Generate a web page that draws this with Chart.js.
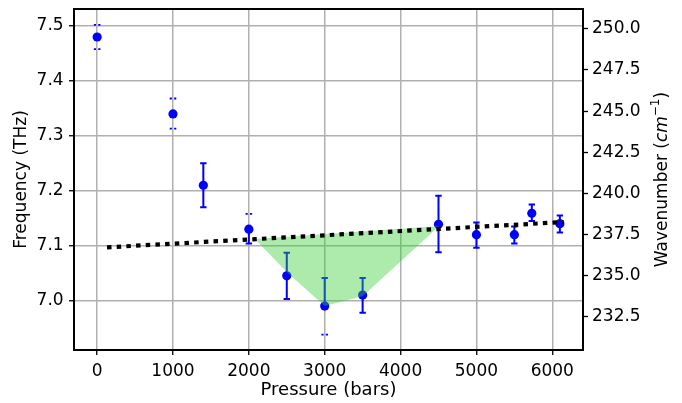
<!DOCTYPE html>
<html>
<head>
<meta charset="utf-8">
<script src="https://cdn.jsdelivr.net/npm/chart.js@4"></script>
<style>
  html, body { margin: 0; padding: 0; background: #fff; }
  #wrap { width: 682px; height: 403px; }
</style>
</head>
<body>
<div id="wrap"><canvas id="js--chart" width="682" height="403"></canvas></div>
<script>
// measured points
const pressure  = [0, 1000, 1400, 2000, 2500, 3000, 3500, 4500, 5000, 5500, 5730, 6100];
const frequency = [7.48, 7.34, 7.21, 7.13, 7.045, 6.99, 7.01, 7.139, 7.12, 7.12, 7.159, 7.14];

// solid error bars (with caps)
const barLow  = [null, null, 7.17, 7.104, 7.003, 6.99, 6.978, 7.088, 7.096, 7.104, 7.145, 7.124];
const barHigh = [null, null, 7.25, 7.13, 7.087, 7.041, 7.041, 7.191, 7.142, 7.135, 7.175, 7.155];
// dotted caps only
const dotCapLow  = [7.458, 7.313, null, null, null, 6.938, null, null, null, null, null, null];
const dotCapHigh = [7.502, 7.368, null, 7.158, null, null, null, null, null, null, null, null];

// trend line
const trendX = [130, 6150];
const trendY = [7.097, 7.143];

// green region
const fillX = [2080, 2500, 3000, 3500, 4510];
const fillY = [7.112, 7.052, 6.99, 7.008, 7.136];

// ticks
const xTicks  = [0, 1000, 2000, 3000, 4000, 5000, 6000];
const yTicks  = [7.0, 7.1, 7.2, 7.3, 7.4, 7.5];
const y2Ticks = [232.5, 235.0, 237.5, 240.0, 242.5, 245.0, 247.5, 250.0];

const xMin = -305, xMax = 6405;
const yMin = 6.910, yMax = 7.531;
const cmPerTHz = 33.356;

const FONT = "'DejaVu Sans'";

function pts(xs, ys) {
  return xs.map((x, i) => ({x: x, y: ys[i]}));
}

function noPad(s) {
  s.paddingTop = 0; s.paddingBottom = 0; s.paddingLeft = 0; s.paddingRight = 0;
}

const errorBars = {
  id: 'errorBars',
  beforeDatasetsDraw(chart) {
    const ctx = chart.ctx;
    const xs = chart.scales.x, ys = chart.scales.y;
    ctx.save();
    ctx.strokeStyle = '#0000ff';
    for (let i = 0; i < pressure.length; i++) {
      const px = xs.getPixelForValue(pressure[i]);
      if (barLow[i] != null) {
        const y1 = ys.getPixelForValue(barLow[i]);
        const y2 = ys.getPixelForValue(barHigh[i]);
        ctx.lineWidth = 2;
        ctx.setLineDash([]);
        ctx.beginPath();
        ctx.moveTo(px, y1); ctx.lineTo(px, y2);
        ctx.moveTo(px - 3.2, y1); ctx.lineTo(px + 3.2, y1);
        ctx.moveTo(px - 3.2, y2); ctx.lineTo(px + 3.2, y2);
        ctx.stroke();
      }
      [dotCapLow[i], dotCapHigh[i]].forEach(v => {
        if (v == null) return;
        const cy = ys.getPixelForValue(v);
        ctx.lineWidth = 1.8;
        ctx.setLineDash([2.2, 2.2]);
        ctx.beginPath();
        ctx.moveTo(px - 3.3, cy); ctx.lineTo(px + 3.3, cy);
        ctx.stroke();
      });
    }
    ctx.restore();
  }
};

const frame = {
  id: 'frame',
  afterDraw(chart) {
    const {ctx, chartArea: a} = chart;
    ctx.save();
    ctx.strokeStyle = '#000';
    ctx.lineWidth = 2;
    ctx.strokeRect(a.left, a.top, a.right - a.left, a.bottom - a.top);

    // right axis title with italic unit and superscript
    const parts = [
      {t: 'Wavenumber (', f: '17px ' + FONT, dy: 0},
      {t: 'cm', f: 'italic 17px ' + FONT, dy: 0},
      {t: '\u22121', f: '12px ' + FONT, dy: -7},
      {t: ')', f: '17px ' + FONT, dy: 0}
    ];
    let total = 0;
    parts.forEach(p => { ctx.font = p.f; p.w = ctx.measureText(p.t).width; total += p.w; });
    ctx.translate(663, (a.top + a.bottom) / 2);
    ctx.rotate(-Math.PI / 2);
    ctx.fillStyle = '#000';
    ctx.textBaseline = 'middle';
    ctx.textAlign = 'left';
    let x = -total / 2;
    parts.forEach(p => { ctx.font = p.f; ctx.fillText(p.t, x, p.dy); x += p.w; });
    ctx.restore();
  }
};

const tickFont = {family: FONT, size: 17};

const config = {
  type: 'line',
  data: {
    datasets: [
      {
        label: 'trend',
        data: pts(trendX, trendY),
        borderColor: '#000',
        borderWidth: 4.2,
        borderDash: [4.5, 5.2],
        borderCapStyle: 'butt',
        pointRadius: 0,
        fill: false,
        order: 0
      },
      {
        label: 'region',
        data: pts(fillX, fillY),
        borderWidth: 0,
        borderColor: 'rgba(0,0,0,0)',
        backgroundColor: 'rgba(50,205,50,0.4)',
        pointRadius: 0,
        fill: 'shape',
        order: 1
      },
      {
        label: 'data',
        data: pts(pressure, frequency),
        showLine: false,
        pointRadius: 4.6,
        pointBorderWidth: 0,
        pointBackgroundColor: '#0000ff',
        borderColor: '#0000ff',
        order: 2
      }
    ]
  },
  options: {
    responsive: false,
    animation: false,
    layout: {padding: {top: 9, left: 0, right: 0, bottom: 0}},
    plugins: {legend: {display: false}, tooltip: {enabled: false}},
    scales: {
      x: {
        type: 'linear',
        position: 'bottom',
        min: xMin, max: xMax,
        afterBuildTicks: s => { s.ticks = xTicks.map(v => ({value: v})); },
        afterFit: s => { s.height = 53; noPad(s); },
        ticks: {font: tickFont, color: '#000', padding: 6, maxRotation: 0, callback: v => String(v)},
        grid: {color: '#b0b0b0', lineWidth: 1.5, tickColor: '#000', tickLength: 5, tickWidth: 1.3},
        border: {display: false},
        title: {display: true, text: 'Pressure (bars)', font: {family: FONT, size: 18, lineHeight: 1.2}, color: '#000', padding: {top: 0, bottom: 2}}
      },
      y: {
        type: 'linear',
        position: 'left',
        min: yMin, max: yMax,
        afterBuildTicks: s => { s.ticks = yTicks.map(v => ({value: v})); },
        afterFit: s => { s.width = 74; noPad(s); },
        ticks: {font: tickFont, color: '#000', padding: 5.4, callback: v => v.toFixed(1)},
        grid: {color: '#b0b0b0', lineWidth: 1.5, tickColor: '#000', tickLength: 5, tickWidth: 1.3},
        border: {display: false},
        title: {display: true, text: 'Frequency (THz)', font: {family: FONT, size: 17, lineHeight: 1.2}, color: '#000', padding: {top: 11.5, bottom: 0}}
      },
      y2: {
        type: 'linear',
        position: 'right',
        display: true,
        min: yMin * cmPerTHz, max: yMax * cmPerTHz,
        afterBuildTicks: s => { s.ticks = y2Ticks.map(v => ({value: v})); },
        afterFit: s => { s.width = 99; noPad(s); },
        ticks: {font: tickFont, color: '#000', padding: 4, callback: v => v.toFixed(1)},
        grid: {drawOnChartArea: false, tickColor: '#000', tickLength: 5, tickWidth: 1.3},
        border: {display: false}
      }
    }
  },
  plugins: [errorBars, frame]
};

const chart1 = new Chart(document.getElementById('js--chart'), config);
</script>
</body>
</html>
